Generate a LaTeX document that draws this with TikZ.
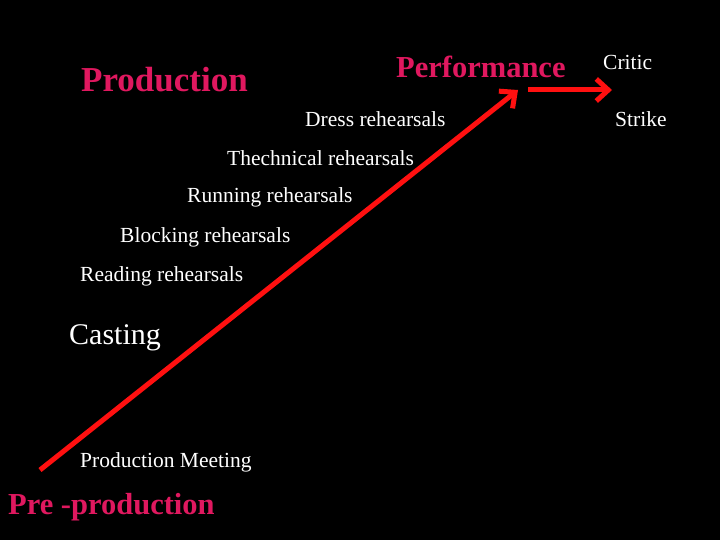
\documentclass[tikz,border=0pt]{standalone}
\usepackage{fontspec}
\setmainfont{Liberation Serif}
\usetikzlibrary{arrows.meta}
\definecolor{pinkred}{HTML}{E0185F}
\definecolor{arrowred}{HTML}{FF1010}
\tikzset{
  stage/.style={anchor=west, inner sep=0pt, text=pinkred, font=\fontsize{30.5}{34}\selectfont\bfseries},
  substep/.style={anchor=west, inner sep=0pt, text=white, font=\fontsize{21.5}{25}\selectfont},
  bigstep/.style={anchor=west, inner sep=0pt, text=white, font=\fontsize{30}{34}\selectfont},
  flow/.style={draw=arrowred, line width=5pt, -{Straight Barb[length=12pt,width=22pt,line width=5pt]}}
}
\begin{document}
\begin{tikzpicture}[x=1pt,y=-1pt]
\fill[black] (0,0) rectangle (720,540);
\useasboundingbox (0,0) rectangle (720,540);
\node[stage, font=\fontsize{35}{38}\selectfont\bfseries] (prod) at (81,80) {Production};
\node[stage] (perf) at (396,67) {Performance};
\node[stage] (pre) at (8,507) {Pre -production};
\node[substep] (critic) at (603,62) {Critic};
\node[substep] (strike) at (615,119) {Strike};
\node[substep] (dress) at (305,119) {Dress rehearsals};
\node[substep] (tech) at (227,158) {Thechnical rehearsals};
\node[substep] (run) at (187,197) {Running rehearsals};
\node[substep] (block) at (120,237) {Blocking rehearsals};
\node[substep] (read) at (80,276) {Reading rehearsals};
\node[bigstep] (cast) at (69,338) {Casting};
\node[substep] (meet) at (80,462) {Production Meeting};
\coordinate (a0) at (40,470);
\coordinate (a1) at (518,90);
\coordinate (b0) at (528,90);
\coordinate (b1) at (612,90);
\draw[flow] (a0) -- (a1);
\draw[flow] (b0) -- (b1);
\end{tikzpicture}
\end{document}
